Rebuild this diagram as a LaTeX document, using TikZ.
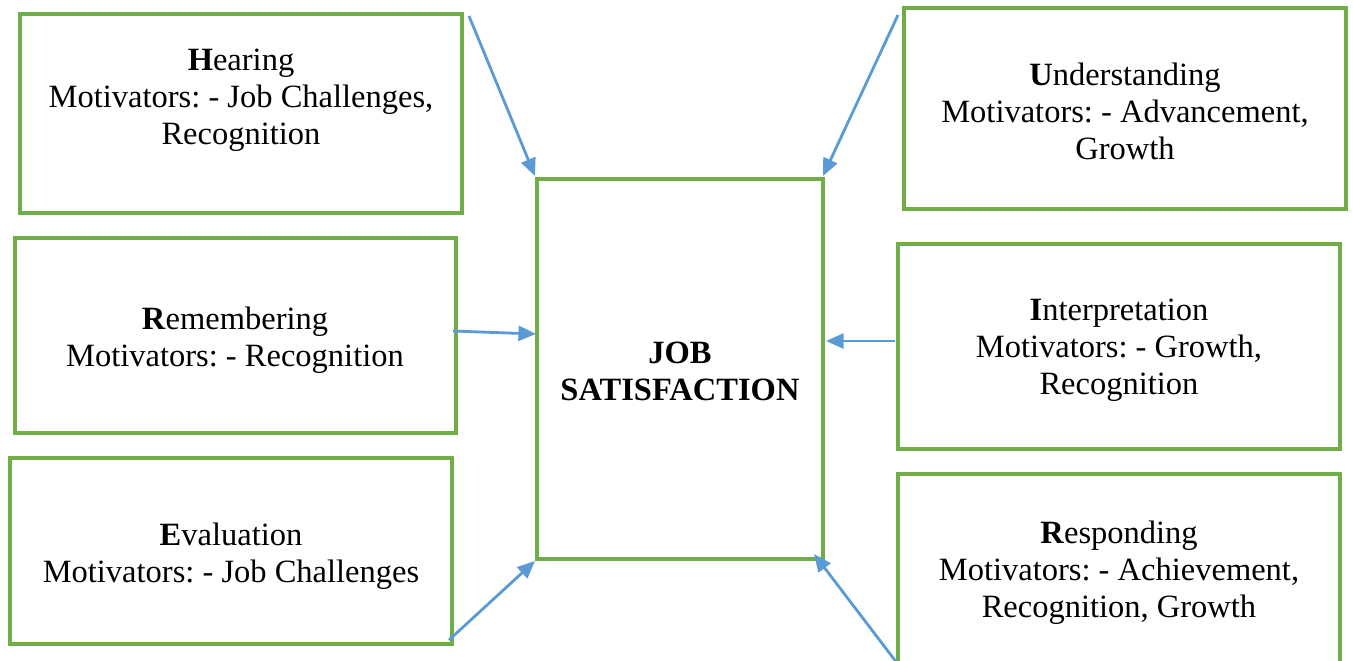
\documentclass[tikz,border=0pt]{standalone}
\usepackage{fontspec}
\setmainfont{Liberation Serif}
\usetikzlibrary{arrows.meta,fit}
\definecolor{boxgreen}{HTML}{70AD47}
\definecolor{arrowblue}{HTML}{5B9BD5}
\frenchspacing
\begin{document}
\begin{tikzpicture}[x=0.02cm,y=-0.02cm,
  box/.style={draw=boxgreen,line width=2pt,inner sep=0pt},
  txt/.style={align=center,font=\fontsize{18.5}{21}\selectfont},
  feed/.style={draw=arrowblue,line width=1.6pt,-{Triangle[length=10pt,width=8.5pt]}}]
\useasboundingbox (0,0) rectangle (1353,660);
\clip (0,0) rectangle (1353,660);

% factor boxes
\node[box,fit={(20,14) (462,213)}] (hear) {};
\node[box,fit={(904,8) (1346,209)}] (under) {};
\node[box,fit={(15,238) (456,433)}] (remem) {};
\node[box,fit={(898,244) (1340,449)}] (interp) {};
\node[box,fit={(10,458) (452,644)}] (eval) {};
\node[box,fit={(898,474) (1340,700)}] (resp) {};
\node[box,fit={(537,179) (823,559)}] (job) {};

% texts
\node[txt] (hearT) at (241,100) {\textbf{H}earing\\Motivators: - Job Challenges,\\Recognition};
\node[txt] (underT) at (1125,111) {\textbf{U}nderstanding\\Motivators: - Advancement,\\Growth};
\node[txt] (rememT) at (235,340) {\textbf{R}emembering\\Motivators: - Recognition};
\node[txt] (interpT) at (1119,350) {\textbf{I}nterpretation\\Motivators: - Growth,\\Recognition};
\node[txt] (evalT) at (231,556) {\textbf{E}valuation\\Motivators: - Job Challenges};
\node[txt] (respT) at (1119,573) {\textbf{R}esponding\\Motivators: - Achievement,\\Recognition, Growth};
\node[txt,font=\fontsize{18.5}{21}\selectfont\bfseries] (jobT) at (680,371) {JOB\\SATISFACTION};

% arrow end points
\coordinate (hearS) at (469,16);   \coordinate (hearE) at (535,176);
\coordinate (underS) at (898,15);  \coordinate (underE) at (823,176);
\coordinate (rememS) at (453,331); \coordinate (rememE) at (536,334);
\coordinate (interpS) at (895,341);\coordinate (interpE) at (826,341);
\coordinate (evalS) at (449,640);  \coordinate (evalE) at (535,561);
\coordinate (respS) at (897,663);  \coordinate (respE) at (814,554);

\draw[feed] (hearS) -- (hearE);
\draw[feed] (underS) -- (underE);
\draw[feed] (rememS) -- (rememE);
\draw[feed] (interpS) -- (interpE);
\draw[feed] (evalS) -- (evalE);
\draw[feed] (respS) -- (respE);
\end{tikzpicture}
\end{document}
